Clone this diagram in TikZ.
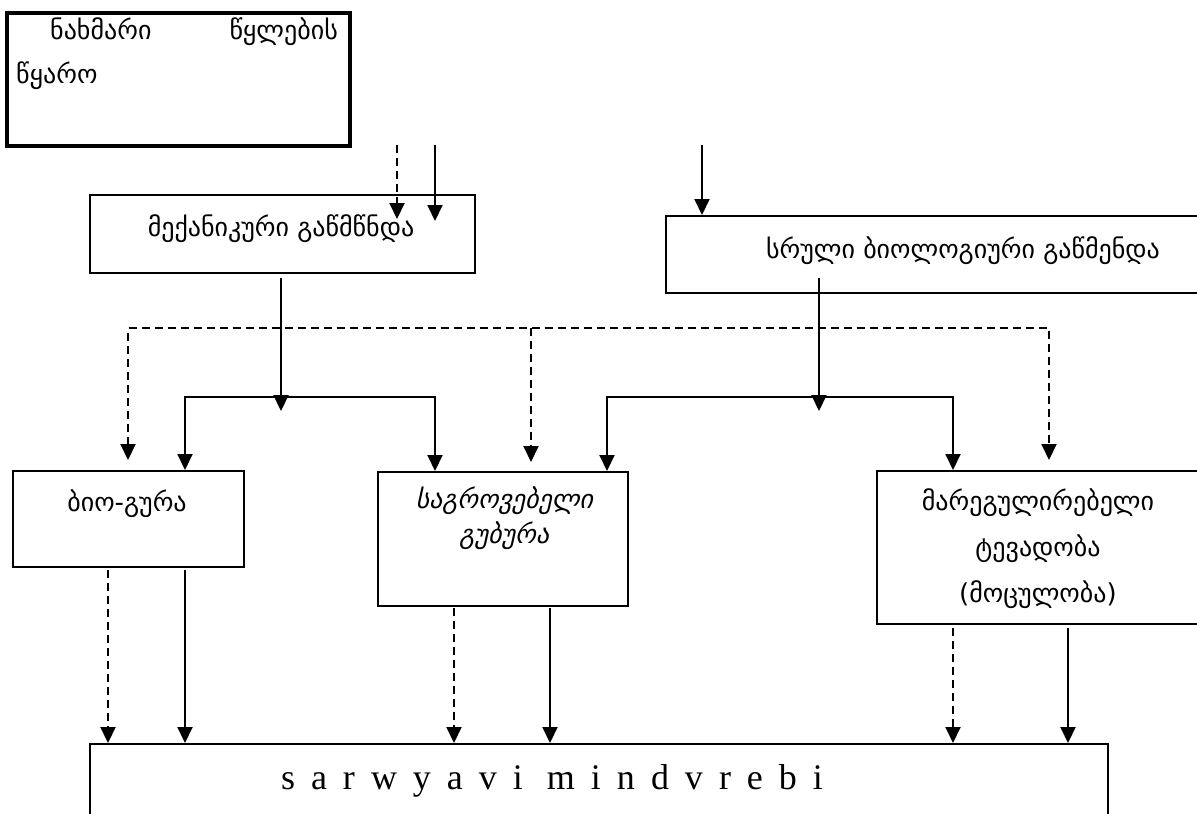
\documentclass[tikz,border=0pt]{standalone}
\usepackage{fontspec}
\setmainfont{Liberation Serif}
\newfontfamily\geo{DejaVu Sans}
\newfontfamily\geoit[FakeSlant=0.22]{DejaVu Sans}
\newfontfamily\latser{Liberation Serif}
\usetikzlibrary{arrows.meta}
\begin{document}
\begin{tikzpicture}[x=1pt,y=-1pt,
  box/.style={draw, line width=2pt, rectangle, anchor=north west, inner sep=0pt},
  lbl/.style={font=\geo\fontsize{26}{30}\selectfont, inner sep=0pt, anchor=base},
  lblit/.style={font=\geoit\fontsize{26}{30}\selectfont, inner sep=0pt, anchor=base},
  flow/.style={line width=2pt, -{Triangle[length=16pt,width=15pt]}},
  dflow/.style={flow, dash pattern=on 8pt off 5pt},
  fork/.style={line width=2pt, {Triangle[length=16pt,width=15pt]}-{Triangle[length=16pt,width=15pt]}},
  dfork/.style={fork, dash pattern=on 8pt off 5pt}]
\useasboundingbox (0,0) rectangle (1197,814);
\clip (0,0) rectangle (1197,814);
\fill[white] (0,0) rectangle (1197,814);
% boxes
\node[box, line width=3.8pt, minimum width=343pt, minimum height=133pt] (src) at (5,11) {};
\node[box, minimum width=385pt, minimum height=78pt] (mech) at (89,194) {};
\node[box, minimum width=600pt, minimum height=77pt] (full) at (665,215) {};
\node[box, minimum width=231pt, minimum height=96pt] (bio) at (12,470) {};
\node[box, minimum width=250pt, minimum height=134pt] (pond) at (377,471) {};
\node[box, minimum width=324pt, minimum height=153pt] (tank) at (876,470) {};
\node[box, minimum width=1018pt, minimum height=120pt] (fields) at (89,743) {};
% texts
\node[lbl, anchor=base west] (s1) at (50,39) {ნახმარი};
\node[lbl, anchor=base east] (s2) at (338,39) {წყლების};
\node[lbl, anchor=base west] (s3) at (16,83) {წყარო};
\node[lbl] (mt) at (281,236) {მექანიკური გაწმწნდა};
\node[lbl] (ft) at (963,258) {სრული ბიოლოგიური გაწმენდა};
\node[lbl] (bt) at (127,511) {ბიო-გურა};
\node[lblit] (p1) at (504,508) {საგროვებელი};
\node[lblit] (p2) at (504,543) {გუბურა};
\node[lbl] (k1) at (1038,510) {მარეგულირებელი};
\node[lbl] (k2) at (1038,556) {ტევადობა};
\node[lbl] (k3) at (1038,602) {(მოცულობა)};
\node[font=\latser\fontsize{36}{40}\selectfont, inner sep=0pt, anchor=base] (fl) at (552,789)
  {s\hspace{16pt}a\hspace{16pt}r\hspace{16pt}w\hspace{16pt}y\hspace{16pt}a\hspace{16pt}v\hspace{16pt}i\hspace{24pt}m\hspace{16pt}i\hspace{16pt}n\hspace{16pt}d\hspace{16pt}v\hspace{16pt}r\hspace{16pt}e\hspace{16pt}b\hspace{16pt}i};
% connector start points
\coordinate (a1) at (397,145);
\coordinate (a2) at (435,145);
\coordinate (a3) at (702,145);
\coordinate (m0) at (281,278);
\coordinate (f0) at (819,278);
\coordinate (mj) at (281,411);
\coordinate (fj) at (819,411);
\coordinate (d0) at (128,328);
\coordinate (d1) at (531,328);
\coordinate (d2) at (1049,328);
\coordinate (l0) at (185,397);
\coordinate (l1) at (435,397);
\coordinate (r0) at (607,397);
\coordinate (r1) at (953,397);
\coordinate (b1) at (108,570);
\coordinate (b2) at (185,570);
\coordinate (p3) at (454,608);
\coordinate (p4) at (550,608);
\coordinate (k4) at (953,628);
\coordinate (k5) at (1068,628);
% into mechanical
\draw[dflow] (a1) -- ++(0,74);
\draw[flow] (a2) -- ++(0,76);
\draw[flow] (a3) -- (a3 |- full.north);
% from mechanical and full
\draw[flow] (m0) -- (mj);
\draw[flow] (f0) -- (fj);
\draw[fork] (l0 |- bio.north) -- (l0) -- (l1) -- (l1 |- pond.north);
\draw[fork] (r0 |- pond.north) -- (r0) -- (r1) -- (r1 |- tank.north);
% dashed distribution
\draw[dfork] ([yshift=10pt]d0 |- bio.north) -- (d0) -- (d2) -- ([yshift=10pt]d2 |- tank.north);
\draw[dflow] (d1) -- ([yshift=9pt]d1 |- pond.north);
% to fields
\draw[dflow] (b1) -- (b1 |- fields.north);
\draw[flow] (b2) -- (b2 |- fields.north);
\draw[dflow] (p3) -- (p3 |- fields.north);
\draw[flow] (p4) -- (p4 |- fields.north);
\draw[dflow] (k4) -- (k4 |- fields.north);
\draw[flow] (k5) -- (k5 |- fields.north);
\end{tikzpicture}
\end{document}
